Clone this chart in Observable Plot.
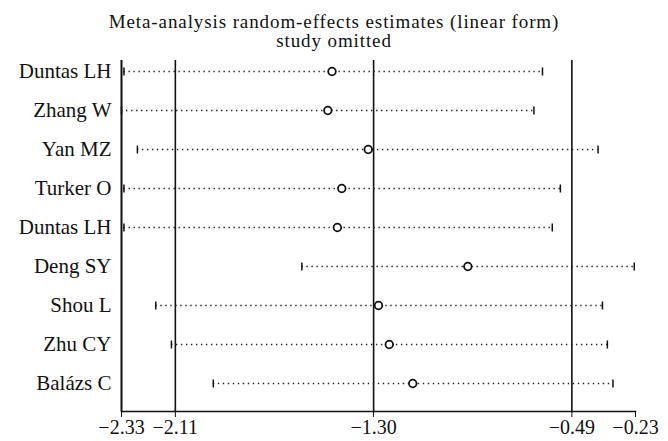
<!DOCTYPE html>
<html>
<head>
<meta charset="utf-8">
<script src="https://cdn.jsdelivr.net/npm/d3@7"></script>
<script src="https://cdn.jsdelivr.net/npm/@observablehq/plot@0.6"></script>
<style>
  body { margin: 0; background: #fff; }
  #wrap { position: relative; width: 668px; height: 441px; }
  #title { position: absolute; left: 0; top: 12px; font-family: "Liberation Serif", serif; font-size: 19px; letter-spacing: 0.9px; line-height: 19px; text-align: center; color: #111; width: 668px; }
  #chart svg { display: block; }
</style>
</head>
<body>
<div id="wrap">
<div id="chart"></div>
<div id="title">Meta-analysis random-effects estimates (linear form)<br>study omitted</div>
</div>
<script>
const studies = ["Duntas LH", "Zhang W", "Yan MZ", "Turker O", "Duntas LH", "Deng SY", "Shou L", "Zhu CY", "Balázs C"];
const estimate = [-1.470, -1.487, -1.322, -1.430, -1.448, -0.915, -1.280, -1.236, -1.140];
const lower = [-2.320, -2.330, -2.265, -2.320, -2.320, -1.593, -2.190, -2.126, -1.955];
const upper = [-0.610, -0.645, -0.383, -0.537, -0.570, -0.235, -0.365, -0.345, -0.322];
const xTicks = [-2.33, -2.11, -1.30, -0.49, -0.23];
const refLines = [-2.11, -1.30, -0.49];

const rows = studies.map((s, i) => ({id: i, study: s, est: estimate[i], lo: lower[i], hi: upper[i]}));
const fmt = d => d.toFixed(2).replace("-", "\u2212");
const vbar = {draw(context, size) { const h = Math.sqrt(size / Math.PI); context.moveTo(0, -h); context.lineTo(0, h); }};

const chart = Plot.plot({
  width: 668,
  height: 441,
  marginLeft: 121,
  marginRight: 33,
  marginTop: 60,
  marginBottom: 30,
  style: {fontFamily: "Liberation Serif, serif", fontSize: "21px", color: "#111", background: "white"},
  x: {domain: [-2.33, -0.23], ticks: xTicks, tickFormat: fmt, tickSize: 6, tickPadding: 2, label: null},
  y: {type: "point", domain: rows.map(d => d.id), range: [69, 385], padding: 0, tickFormat: i => studies[i], tickSize: 0, tickPadding: 10, label: null},
  marks: [
    Plot.ruleX(refLines, {stroke: "#111", strokeWidth: 1.6}),
    Plot.ruleX([xTicks[0]], {stroke: "#111", strokeWidth: 2}),
    Plot.frame({anchor: "bottom", stroke: "#111", strokeWidth: 1.6}),
    Plot.ruleY(rows, {y: "id", x1: "lo", x2: "hi", stroke: "#222", strokeWidth: 1.5, strokeDasharray: "1.4,3.6"}),
    Plot.dot(rows, {x: "lo", y: "id", symbol: vbar, r: 4, stroke: "#111", strokeWidth: 1.5, fill: "none"}),
    Plot.dot(rows, {x: "hi", y: "id", symbol: vbar, r: 4, stroke: "#111", strokeWidth: 1.5, fill: "none"}),
    Plot.dot(rows, {x: "est", y: "id", r: 3.8, stroke: "#111", strokeWidth: 1.8, fill: "white"})
  ]
});
chart.querySelectorAll("[aria-label='x-axis tick label'] text").forEach(t => t.style.fontSize = "20px");
document.getElementById("chart").appendChild(chart);
</script>
</body>
</html>
